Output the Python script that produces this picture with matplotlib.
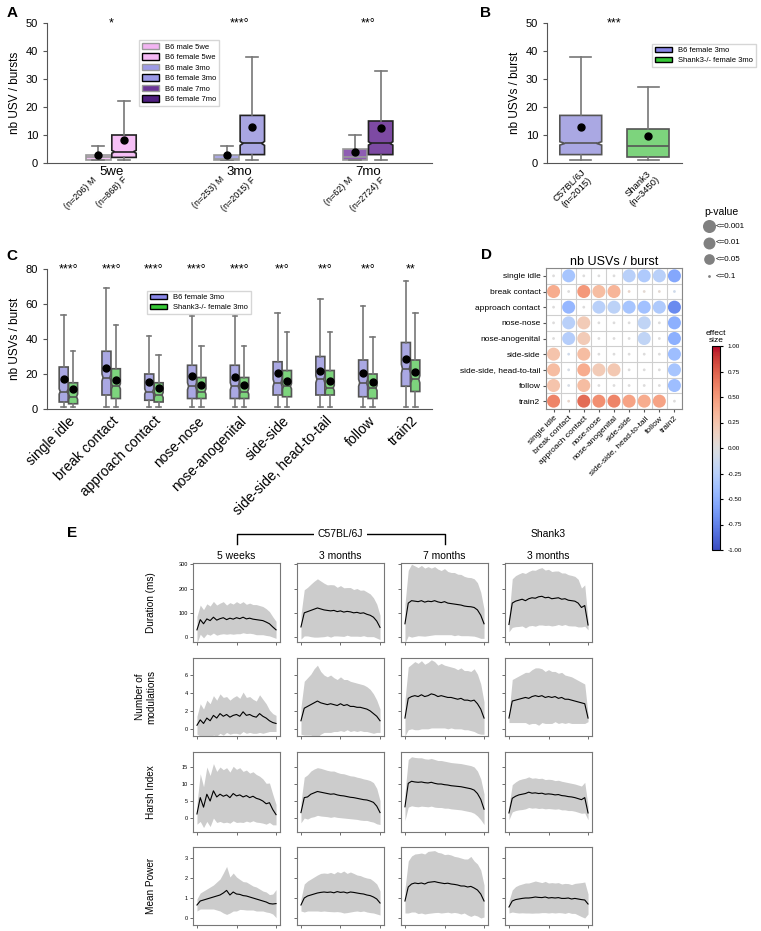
import matplotlib
matplotlib.use("Agg")
import matplotlib.pyplot as plt
import numpy as np
from matplotlib import colors
from matplotlib.cm import ScalarMappable
from matplotlib.lines import Line2D
from matplotlib.patches import Patch
from matplotlib.path import Path
from matplotlib.transforms import blended_transform_factory

plt.rcParams["font.family"] = ["Liberation Sans", "DejaVu Sans"]

W, H = 761, 931

# ---------------- panel A: USVs per burst by age and sex
ages = ["5we", "3mo", "7mo"]
n_male = [206, 253, 62]
n_female = [868, 2015, 2724]
stars_a = ["*", "***°", "**°"]
# whislo, q1, median, q3, whishi, mean
male_box = [[1, 1, 2, 3, 6, 3.0], [1, 1, 1.5, 3, 6, 2.7], [1, 1, 2, 5, 10, 4.0]]
female_box = [[1, 2, 4, 10, 22, 8.2], [1, 3, 7, 17, 38, 13.0], [1, 3, 7, 15, 33, 12.4]]
female_ci = [0.5, 0.7, 0.6]
male_face = ["#f3c6f3", "#aaa8e3", "#8e5db2"]
female_face = ["#f6c0f6", "#a9a6e2", "#7d4aa3"]
legend_a = ["B6 male 5we", "B6 female 5we", "B6 male 3mo",
            "B6 female 3mo", "B6 male 7mo", "B6 female 7mo"]
legend_a_col = ["#f2b4f2", "#f4b8f4", "#9d9be6", "#9a98e6", "#6c3697", "#4f1f80"]

# ---------------- panel B: strain comparison
strains = ["C57BL/6J\n(n=2015)", "Shank3\n(n=3450)"]
strain_box = [[1, 3, 7, 17, 38, 13.0], [1, 2, 6, 12, 27, 9.5]]
strain_ci = [0.6, 0.0]

# ---------------- panel C: per context
contexts = ["single idle", "break contact", "approach contact", "nose-nose",
            "nose-anogenital", "side-side", "side-side, head-to-tail", "follow", "train2"]
stars_c = ["***°", "***°", "***°", "***°", "***°", "**°", "**°", "**°", "**"]
b6_ctx = [[1, 4, 10, 24, 54, 17.0], [1, 8, 18, 33, 69, 23.3], [1, 5, 10, 20, 42, 15.6],
          [1, 6, 13, 25, 53, 18.7], [1, 6, 13, 25, 53, 18.5], [1, 8, 15, 27, 55, 20.5],
          [1, 8, 17, 30, 63, 22.0], [1, 7, 15, 28, 59, 20.6], [1, 13, 23, 38, 73, 28.6]]
sh_ctx = [[1, 3, 7, 15, 33, 11.3], [1, 6, 13, 23, 48, 16.8], [1, 4, 8, 15, 31, 12.0],
          [1, 6, 10, 18, 36, 14.0], [1, 6, 10, 18, 36, 13.8], [1, 7, 13, 22, 44, 16.2],
          [1, 8, 12, 22, 44, 16.2], [1, 6, 12, 20, 41, 15.4], [1, 10, 17, 28, 55, 21.0]]
b6_ci = [1.5, 2.0, 1.5, 2.0, 2.0, 2.0, 2.0, 2.0, 2.5]
sh_ci = [1.5, 1.5, 1.5, 1.5, 1.5, 1.5, 1.5, 1.5, 2.0]

# ---------------- panel D: effect size matrix (rows vs columns)
effect = [
    [0.0, -0.35, 0.0, 0.0, 0.0, -0.25, -0.3, -0.25, -0.55],
    [0.4, 0.0, 0.5, 0.3, 0.35, 0.1, 0.05, 0.05, -0.1],
    [0.0, -0.45, 0.0, -0.25, -0.22, -0.35, -0.38, -0.3, -0.7],
    [0.0, -0.25, 0.2, 0.0, 0.0, 0.0, -0.2, 0.0, -0.5],
    [0.0, -0.27, 0.2, 0.0, 0.0, 0.0, -0.2, 0.0, -0.5],
    [0.25, -0.1, 0.3, 0.0, 0.0, 0.0, 0.0, 0.0, -0.4],
    [0.3, -0.05, 0.4, 0.2, 0.22, 0.0, 0.0, 0.0, -0.35],
    [0.25, -0.05, 0.3, 0.0, 0.0, 0.0, 0.0, 0.0, -0.4],
    [0.6, 0.1, 0.7, 0.55, 0.6, 0.45, 0.4, 0.45, 0.0],
]
# 3: p<=0.001, 2: p<=0.01, 1: p<=0.05, 0: p<=0.1
p_level = [
    [0, 3, 0, 0, 0, 3, 3, 3, 3],
    [3, 0, 3, 3, 3, 0, 0, 0, 0],
    [0, 3, 0, 3, 3, 3, 3, 3, 3],
    [0, 3, 3, 0, 0, 0, 3, 0, 3],
    [0, 3, 3, 0, 0, 0, 3, 0, 3],
    [3, 0, 3, 0, 0, 0, 0, 0, 3],
    [3, 0, 3, 3, 3, 0, 0, 0, 3],
    [3, 0, 3, 0, 0, 0, 0, 0, 3],
    [3, 0, 3, 3, 3, 3, 3, 3, 0],
]
p_labels = ["<=0.001", "<=0.01", "<=0.05", "<=0.1"]
p_sizes = {3: 88, 2: 74, 1: 59, 0: 4}

# ---------------- panel E: acoustic features along the burst
groups = ["5 weeks", "3 months", "7 months", "3 months"]
features = ["Duration (ms)", "Number of\nmodulations", "Harsh Index", "Mean Power"]

dur_5we = [30, 72, 55, 75, 68, 82, 70, 76, 80, 72, 78, 74, 80, 76, 82, 75, 78, 74, 72, 70, 68, 62, 55, 42, 30]
dur_5we_sd = [55, 60, 58, 62, 60, 65, 62, 64, 66, 60, 64, 62, 66, 62, 64, 60, 62, 60, 62, 60, 58, 55, 50, 42, 35]
dur_3mo = [42, 100, 105, 110, 115, 120, 116, 112, 110, 108, 110, 105, 108, 103, 106, 104, 100, 102, 98, 100, 94, 90, 82, 66, 40]
dur_3mo_sd = [50, 95, 100, 108, 115, 120, 115, 110, 105, 108, 105, 100, 104, 100, 98, 100, 96, 98, 95, 94, 92, 88, 80, 70, 50]
dur_7mo = [55, 140, 150, 148, 146, 150, 144, 148, 146, 150, 145, 142, 146, 140, 138, 136, 134, 132, 128, 126, 125, 122, 112, 90, 55]
dur_7mo_sd = [80, 135, 150, 145, 140, 145, 140, 142, 138, 140, 135, 132, 136, 130, 128, 130, 125, 126, 122, 120, 120, 118, 112, 95, 60]
dur_sh = [52, 140, 148, 152, 156, 150, 158, 162, 160, 166, 168, 162, 164, 158, 160, 162, 156, 158, 152, 150, 148, 140, 122, 130, 50]
dur_sh_sd = [30, 100, 105, 108, 110, 112, 112, 114, 115, 116, 118, 114, 115, 112, 112, 110, 108, 106, 105, 104, 102, 98, 80, 85, 20]

mod_5we = [0.4, 1.0, 0.6, 1.2, 0.9, 1.5, 1.2, 1.7, 1.4, 1.6, 1.3, 1.5, 1.6, 1.4, 1.9, 1.5, 1.6, 1.4, 1.3, 1.7, 1.4, 1.2, 0.9, 0.7, 0.6]
mod_5we_sd = [1.0, 1.8, 1.6, 2.0, 1.9, 2.2, 2.0, 2.2, 2.1, 2.0, 1.9, 2.0, 2.1, 2.0, 2.2, 2.0, 2.0, 1.9, 1.8, 2.1, 1.9, 1.6, 1.2, 1.0, 0.9]
mod_3mo = [0.9, 2.3, 2.5, 2.7, 2.9, 3.1, 2.9, 2.8, 2.7, 2.8, 2.7, 2.6, 2.8, 2.6, 2.7, 2.5, 2.5, 2.4, 2.4, 2.3, 2.2, 2.0, 1.7, 1.4, 0.9]
mod_3mo_sd = [1.5, 3.0, 3.2, 3.4, 3.8, 4.0, 3.5, 3.2, 3.1, 3.2, 3.0, 2.9, 3.0, 2.9, 2.8, 2.8, 2.7, 2.7, 2.6, 2.6, 2.5, 2.4, 2.2, 1.8, 1.3]
mod_7mo = [1.2, 3.4, 3.6, 3.7, 3.6, 3.8, 3.6, 3.7, 3.9, 3.8, 3.6, 3.7, 3.6, 3.5, 3.5, 3.4, 3.3, 3.4, 3.2, 3.2, 3.1, 3.2, 2.8, 2.2, 1.2]
mod_7mo_sd = [2.0, 3.5, 3.6, 3.8, 3.7, 3.8, 3.6, 3.7, 3.8, 3.7, 3.5, 3.6, 3.5, 3.5, 3.4, 3.4, 3.3, 3.4, 3.3, 3.3, 3.3, 3.5, 3.3, 2.8, 1.8]
mod_sh = [1.2, 3.1, 3.2, 3.3, 3.4, 3.5, 3.4, 3.6, 3.7, 3.6, 3.7, 3.5, 3.6, 3.5, 3.6, 3.4, 3.5, 3.3, 3.3, 3.2, 3.1, 3.0, 2.9, 2.8, 1.2]
mod_sh_sd = [0.5, 2.4, 2.5, 2.6, 2.7, 2.8, 2.9, 3.0, 3.1, 3.2, 3.0, 2.9, 3.0, 2.9, 2.8, 2.8, 2.8, 2.7, 2.6, 2.6, 2.5, 2.4, 2.3, 2.2, 0.4]

harsh_5we = [1.2, 6.0, 3.2, 7.0, 5.0, 8.0, 6.2, 7.0, 6.4, 6.8, 6.0, 7.2, 6.5, 6.8, 6.2, 6.6, 6.0, 6.4, 5.8, 5.5, 5.0, 4.2, 4.5, 2.5, 1.0]
harsh_5we_sd = [3, 7, 6, 8, 7.5, 8, 7.5, 8, 7.8, 8, 7.5, 8, 7.8, 8, 7.5, 7.5, 7.2, 7.2, 7, 6.8, 6.5, 6, 5.8, 4.5, 3]
harsh_3mo = [1.6, 6.0, 6.2, 7.0, 7.4, 7.8, 7.6, 7.4, 7.2, 7.0, 7.1, 6.8, 6.6, 6.5, 6.3, 6.1, 6.0, 5.8, 5.6, 5.4, 5.3, 5.0, 4.6, 3.5, 1.6]
harsh_3mo_sd = [3, 6, 6.5, 6.8, 7, 7, 7, 6.9, 6.8, 6.8, 6.7, 6.6, 6.5, 6.5, 6.4, 6.3, 6.3, 6.2, 6.2, 6.1, 6, 6, 5.8, 5.2, 3.5]
harsh_7mo = [3.3, 10.2, 10.8, 10.6, 10.5, 10.6, 10.4, 10.3, 10.5, 10.2, 10.0, 10.0, 9.8, 9.7, 9.5, 9.4, 9.3, 9.2, 9.0, 8.8, 8.6, 8.2, 7.2, 5.5, 2.6]
harsh_7mo_sd = [4, 7, 7.2, 7.2, 7.2, 7.1, 7, 7, 7, 7, 6.9, 6.9, 6.9, 6.8, 6.8, 6.8, 6.8, 6.8, 6.8, 6.8, 6.8, 6.8, 6.6, 6, 4.5]
harsh_sh = [1.5, 5.8, 6.4, 6.8, 7.0, 7.2, 7.6, 7.3, 7.4, 7.2, 7.3, 7.0, 7.1, 7.0, 6.8, 6.9, 6.6, 6.5, 6.3, 6.2, 6.0, 5.7, 5.4, 6.0, 1.5]
harsh_sh_sd = [2, 4, 4.2, 4.4, 4.5, 4.5, 4.5, 4.4, 4.4, 4.4, 4.4, 4.3, 4.3, 4.3, 4.2, 4.2, 4.2, 4.1, 4.1, 4.0, 4.0, 4.0, 4.0, 4.5, 2]

pow_5we = [0.65, 0.85, 0.9, 0.95, 1.0, 1.05, 1.1, 1.15, 1.25, 1.38, 1.15, 1.3, 1.2, 1.18, 1.12, 1.1, 1.05, 1.0, 0.95, 0.9, 0.85, 0.8, 0.72, 0.7, 0.72]
pow_5we_sd = [0.3, 0.4, 0.45, 0.5, 0.55, 0.6, 0.7, 0.8, 1.0, 1.2, 0.9, 0.95, 0.85, 0.75, 0.7, 0.7, 0.65, 0.6, 0.6, 0.55, 0.5, 0.5, 0.45, 0.5, 0.7]
pow_3mo = [0.65, 1.0, 1.1, 1.15, 1.2, 1.25, 1.28, 1.3, 1.28, 1.3, 1.26, 1.32, 1.28, 1.3, 1.25, 1.3, 1.28, 1.25, 1.22, 1.2, 1.15, 1.12, 1.05, 0.95, 0.75]
pow_3mo_sd = [0.3, 0.7, 0.75, 0.8, 0.85, 0.9, 0.95, 0.95, 0.95, 0.98, 0.95, 1.0, 0.98, 1.05, 0.98, 1.0, 0.95, 0.9, 0.9, 0.85, 0.85, 0.85, 0.8, 0.75, 0.6]
pow_7mo = [0.85, 1.55, 1.7, 1.75, 1.72, 1.75, 1.7, 1.78, 1.8, 1.82, 1.78, 1.75, 1.72, 1.74, 1.7, 1.68, 1.65, 1.6, 1.6, 1.55, 1.58, 1.5, 1.4, 1.2, 0.85]
pow_7mo_sd = [0.6, 1.3, 1.4, 1.45, 1.5, 1.5, 1.5, 1.55, 1.55, 1.55, 1.5, 1.5, 1.45, 1.45, 1.45, 1.4, 1.4, 1.4, 1.35, 1.4, 1.5, 1.35, 1.3, 1.2, 0.8]
pow_sh = [0.55, 0.85, 0.92, 0.95, 0.98, 1.0, 1.0, 1.02, 1.05, 1.03, 1.02, 1.05, 1.0, 1.02, 1.0, 1.02, 0.98, 0.98, 1.0, 0.95, 0.98, 0.95, 0.92, 0.9, 0.7]
pow_sh_sd = [0.3, 0.55, 0.65, 0.7, 0.72, 0.75, 0.75, 0.78, 0.8, 0.78, 0.75, 0.78, 0.75, 0.75, 0.75, 0.75, 0.72, 0.75, 0.72, 0.72, 0.75, 0.8, 0.85, 0.9, 0.5]

feature_means = [[dur_5we, dur_3mo, dur_7mo, dur_sh], [mod_5we, mod_3mo, mod_7mo, mod_sh],
                 [harsh_5we, harsh_3mo, harsh_7mo, harsh_sh], [pow_5we, pow_3mo, pow_7mo, pow_sh]]
feature_sds = [[dur_5we_sd, dur_3mo_sd, dur_7mo_sd, dur_sh_sd], [mod_5we_sd, mod_3mo_sd, mod_7mo_sd, mod_sh_sd],
               [harsh_5we_sd, harsh_3mo_sd, harsh_7mo_sd, harsh_sh_sd], [pow_5we_sd, pow_3mo_sd, pow_7mo_sd, pow_sh_sd]]
feature_ylim = [(-20, 305), (-0.8, 7.9), (-4.1, 19.4), (-0.35, 3.55)]
feature_ticks = [[0, 100, 200, 300], [0, 2, 4, 6], [0, 5, 10, 15], [0, 1, 2, 3]]

B6_FACE, SH_FACE = "#aaa8e3", "#7dd47d"
B6_LEG, SH_LEG = "#8886e8", "#36c836"
GREY = "#777777"


def px_axes(fig, l, t, r, b):
    return fig.add_axes([l / W, 1 - b / H, (r - l) / W, (b - t) / H])


def draw_box(ax, vals, pos, width, face, edge, ci=0.0):
    lo, q1, med, q3, hi, mean = vals
    stats = dict(whislo=lo, q1=q1, med=med, q3=q3, whishi=hi, mean=mean,
                 cilo=med - ci, cihi=med + ci, fliers=[])
    res = ax.bxp([stats], positions=[pos], widths=width, patch_artist=True, shownotches=ci > 0,
                 showmeans=True, showfliers=False, manage_ticks=False,
                 boxprops=dict(facecolor=face, edgecolor=edge, linewidth=1.2),
                 whiskerprops=dict(color=GREY, linewidth=1.2),
                 capprops=dict(color=GREY, linewidth=1.2),
                 medianprops=dict(color=edge, linewidth=1.2),
                 meanprops=dict(marker="o", markerfacecolor="black", markeredgecolor="black",
                                markersize=5))
    if ci > 0:
        # shallower notch than matplotlib's default (half width)
        box = res["boxes"][0]
        path = box.get_path()
        verts = np.array(path.vertices, dtype=float)
        at_med = np.isclose(verts[:, 1], med)
        verts[at_med, 0] = pos + np.sign(verts[at_med, 0] - pos) * width * 0.38
        box.set_path(Path(verts, path.codes))
        res["medians"][0].set_xdata([pos - width * 0.38, pos + width * 0.38])


def style_box_axes(ax):
    for s in ("top", "right"):
        ax.spines[s].set_visible(False)
    for s in ("left", "bottom"):
        ax.spines[s].set_color("#555555")
    ax.tick_params(axis="y", labelsize=8, length=3, color="#555555")
    ax.tick_params(axis="x", length=0)


fig = plt.figure(figsize=(W / 100, H / 100), dpi=100)

# ---- A
axA = px_axes(fig, 47, 23, 432, 163)
for i in range(len(ages)):
    draw_box(axA, male_box[i], i - 0.1, 0.19, male_face[i], "#999999")
    draw_box(axA, female_box[i], i + 0.1, 0.19, female_face[i], "#222222", female_ci[i])
    axA.text(i, 50, stars_a[i], ha="center", va="center", fontsize=9)
axA.set_xlim(-0.5, 2.5)
axA.set_ylim(0, 50)
axA.set_yticks(range(0, 51, 10))
axA.set_xticks(range(len(ages)))
axA.set_xticklabels(ages, fontsize=9.5)
axA.tick_params(axis="x", pad=2)
axA.set_ylabel("nb USV / bursts", fontsize=8.5, labelpad=3)
style_box_axes(axA)
trA = blended_transform_factory(axA.transData, axA.transAxes)
for i in range(len(ages)):
    axA.text(i - 0.1, -0.085, f"(n={n_male[i]}) M", rotation=45, ha="right", va="top",
             fontsize=6.5, transform=trA)
    axA.text(i + 0.14, -0.085, f"(n={n_female[i]}) F", rotation=45, ha="right", va="top",
             fontsize=6.5, transform=trA)
handles_a = [Patch(facecolor=c, edgecolor="#999999" if k % 2 == 0 else "black", linewidth=1)
             for k, c in enumerate(legend_a_col)]
axA.legend(handles_a, legend_a, loc="upper left", bbox_to_anchor=(0.229, 0.907), fontsize=5.5,
           frameon=True, fancybox=False, edgecolor="#cccccc", handlelength=2.2, handleheight=0.9,
           labelspacing=0.35, borderpad=0.4)

# ---- B
axB = px_axes(fig, 547, 23, 682, 163)
draw_box(axB, strain_box[0], 0, 0.62, B6_FACE, "#555555", strain_ci[0])
draw_box(axB, strain_box[1], 1, 0.62, SH_FACE, "#555555", strain_ci[1])
axB.text(0.5, 50, "***", ha="center", va="center", fontsize=9)
axB.set_xlim(-0.5, 1.5)
axB.set_ylim(0, 50)
axB.set_yticks(range(0, 51, 10))
axB.set_xticks([])
axB.set_ylabel("nb USVs / burst", fontsize=8.5, labelpad=3)
style_box_axes(axB)
trB = blended_transform_factory(axB.transData, axB.transAxes)
for i, lab in enumerate(strains):
    axB.text(i + 0.2, -0.03, lab, rotation=45, ha="right", va="top", fontsize=6.8,
             multialignment="center", transform=trB)
axB.legend([Patch(facecolor=B6_LEG, edgecolor="black"), Patch(facecolor=SH_LEG, edgecolor="black")],
           ["B6 female 3mo", "Shank3-/- female 3mo"], loc="upper left", bbox_to_anchor=(0.748, 0.879),
           fontsize=5.5, frameon=True, fancybox=False, edgecolor="#cccccc", handlelength=2.2,
           labelspacing=0.35, borderpad=0.4)

# ---- C
axC = px_axes(fig, 47, 269, 432, 409)
for i in range(len(contexts)):
    draw_box(axC, b6_ctx[i], i - 0.11, 0.21, B6_FACE, "#555555", b6_ci[i])
    draw_box(axC, sh_ctx[i], i + 0.11, 0.21, SH_FACE, "#555555", sh_ci[i])
    axC.text(i, 80, stars_c[i], ha="center", va="center", fontsize=9)
axC.set_xlim(-0.5, len(contexts) - 0.5)
axC.set_ylim(0, 80)
axC.set_yticks(range(0, 81, 20))
axC.set_xticks(range(len(contexts)))
axC.set_xticklabels(contexts, rotation=45, ha="right", rotation_mode="anchor", fontsize=10)
axC.set_ylabel("nb USVs / burst", fontsize=8.5, labelpad=3)
style_box_axes(axC)
axC.legend([Patch(facecolor=B6_LEG, edgecolor="black"), Patch(facecolor=SH_LEG, edgecolor="black")],
           ["B6 female 3mo", "Shank3-/- female 3mo"], loc="upper left", bbox_to_anchor=(0.249, 0.871),
           fontsize=5.5, frameon=True, fancybox=False, edgecolor="#cccccc", handlelength=2.2,
           labelspacing=0.35, borderpad=0.4)

# ---- D
axD = px_axes(fig, 546, 268, 682, 409)
norm = colors.Normalize(vmin=-1, vmax=1)
cmap = plt.get_cmap("coolwarm")
eff = np.array(effect)
lev = np.array(p_level)
rows, cols = np.indices(eff.shape)
sizes = np.vectorize(p_sizes.get)(lev)
axD.scatter(cols.ravel(), rows.ravel(), s=sizes.ravel(), c=eff.ravel(), cmap=cmap, norm=norm,
            linewidths=0, zorder=3)
axD.set_xlim(-0.5, len(contexts) - 0.5)
axD.set_ylim(len(contexts) - 0.5, -0.5)
axD.set_xticks(range(len(contexts)))
axD.set_yticks(range(len(contexts)))
axD.set_xticklabels(contexts, rotation=45, ha="right", rotation_mode="anchor", fontsize=6)
axD.set_yticklabels(contexts, fontsize=6)
axD.set_xticks(np.arange(-0.5, len(contexts)), minor=True)
axD.set_yticks(np.arange(-0.5, len(contexts)), minor=True)
axD.grid(which="minor", color="#cfcfcf", linewidth=0.8)
axD.tick_params(which="minor", length=0)
axD.tick_params(which="major", length=2.5, color="#555555", pad=1.5)
for s in axD.spines.values():
    s.set_color("#888888")
axD.set_title("nb USVs / burst", fontsize=9, pad=2)

cax = px_axes(fig, 712, 346, 720, 550)
cb = fig.colorbar(ScalarMappable(norm=norm, cmap=cmap), cax=cax, ticks=np.arange(-1, 1.01, 0.25),
                  format="%.2f")
cb.ax.tick_params(labelsize=4.5, length=2)
cb.outline.set_linewidth(0.8)
cax.set_title("effect\nsize", fontsize=6, pad=3, linespacing=0.9)

# p-value size key, drawn in pixel units of the figure
axP = px_axes(fig, 695, 200, 761, 285)
axP.set_xlim(695, 761)
axP.set_ylim(285, 200)
axP.axis("off")
axP.text(721, 212, "p-value", ha="center", va="center", fontsize=7.5)
for k, lab in enumerate(p_labels):
    yk = 226 + k * 16.7
    axP.scatter([709], [yk], s=p_sizes[3 - k], color="#808080", linewidths=0, clip_on=False)
    axP.text(716, yk, lab, ha="left", va="center", fontsize=5.8)

# ---- E
col_left = [193, 297, 401, 505]
col_w = 87
row_top = [563, 658, 752, 847]
row_bot = [642, 736, 832, 925]
pos = np.linspace(0, 1, len(dur_5we))
axesE = [[None] * 4 for _ in range(4)]
for r in range(4):
    for c in range(4):
        ax = px_axes(fig, col_left[c], row_top[r], col_left[c] + col_w, row_bot[r])
        axesE[r][c] = ax
        m = np.array(feature_means[r][c])
        sd = np.array(feature_sds[r][c])
        ax.fill_between(pos, m - sd, m + sd, color="#cccccc", linewidth=0)
        ax.plot(pos, m, color="black", linewidth=0.8)
        ax.set_xlim(-0.05, 1.05)
        ax.set_ylim(*feature_ylim[r])
        ax.set_yticks(feature_ticks[r])
        ax.set_xticks([0, 0.5, 1])
        ax.set_xticklabels([])
        if c > 0:
            ax.set_yticklabels([])
        ax.tick_params(labelsize=4, length=2, width=0.6, pad=1.5, color="#555555")
        for s in ax.spines.values():
            s.set_color("#777777")
            s.set_linewidth(0.8)
        if r == 0:
            ax.set_title(groups[c], fontsize=7.5, pad=3)
    axesE[r][0].set_ylabel(features[r], fontsize=7.2)
    axesE[r][0].yaxis.set_label_coords(-0.42, 0.5)

# header bracket over the C57BL/6J columns
x1 = (col_left[0] + col_w / 2) / W
x3 = (col_left[2] + col_w / 2) / W
y_top, y_low = 1 - 534 / H, 1 - 544 / H
fig.add_artist(Line2D([x1, x1, x3, x3], [y_low, y_top, y_top, y_low], transform=fig.transFigure,
                      color="black", linewidth=1))
fig.text((col_left[1] + col_w / 2) / W, y_top, "C57BL/6J", ha="center", va="center", fontsize=7.5,
         bbox=dict(facecolor="white", edgecolor="none", pad=3))
fig.text((col_left[3] + col_w / 2) / W, y_top, "Shank3", ha="center", va="center", fontsize=7.5)

# panel letters
for letter, x, y in [("A", 12, 13), ("B", 486, 13), ("C", 12, 256), ("D", 487, 255), ("E", 72, 533)]:
    fig.text(x / W, 1 - y / H, letter, fontsize=11, fontweight="bold", ha="center", va="center")

fig.savefig("out.png", dpi=100)
